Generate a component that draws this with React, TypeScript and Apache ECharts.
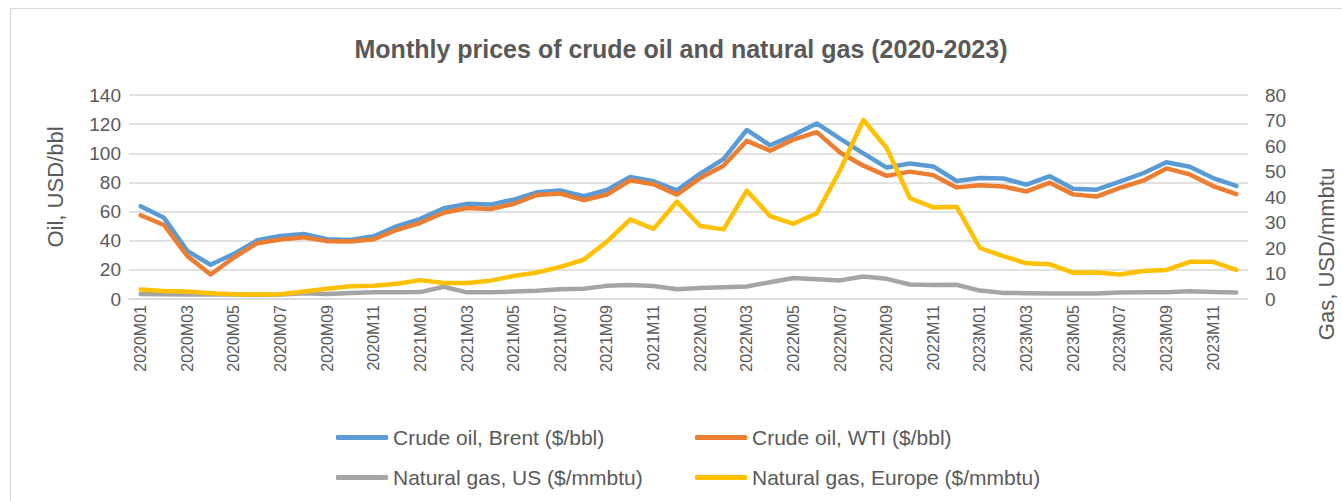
import React, { useEffect, useRef } from "react";
import * as echarts from "echarts";

const months: string[] = [];
for (const y of [2020, 2021, 2022, 2023]) {
  for (let m = 1; m <= 12; m++) months.push(`${y}M${m < 10 ? "0" + m : m}`);
}

const brent = [
  63.6, 55.7, 33.0, 23.5, 31.0, 40.3, 43.2, 44.7, 41.0, 40.5, 43.0, 50.0,
  55.0, 62.3, 65.3, 64.8, 68.2, 73.2, 74.5, 70.5, 74.8, 83.8, 80.8, 74.5,
  86.0, 96.0, 116.0, 105.5, 112.5, 120.5, 110.0, 100.0, 90.2, 93.0, 91.0, 81.0,
  83.0, 82.7, 78.5, 84.3, 75.6, 75.0, 80.5, 86.3, 93.8, 90.8, 83.0, 77.6,
];
const wti = [
  57.5, 50.8, 29.5, 16.8, 28.5, 38.3, 40.8, 42.3, 39.7, 39.5, 41.0, 47.5,
  52.3, 59.2, 62.4, 61.8, 65.2, 71.4, 72.4, 67.8, 71.6, 81.5, 78.8, 71.6,
  83.0, 91.5, 108.5, 101.8, 109.4, 114.5, 100.5, 91.5, 84.5, 87.4, 85.0, 76.6,
  78.0, 77.2, 73.8, 79.8, 71.8, 70.3, 76.2, 81.2, 89.6, 85.5, 77.5, 72.0,
];
const gasUS = [
  2.0, 1.9, 1.8, 1.75, 1.75, 1.65, 1.77, 2.3, 1.95, 2.4, 2.6, 2.6,
  2.7, 4.8, 2.6, 2.65, 2.9, 3.25, 3.85, 4.05, 5.15, 5.5, 5.1, 3.8,
  4.35, 4.65, 4.9, 6.6, 8.2, 7.75, 7.3, 8.8, 7.9, 5.7, 5.5, 5.6,
  3.3, 2.4, 2.3, 2.2, 2.15, 2.2, 2.55, 2.6, 2.65, 3.0, 2.75, 2.55,
];
const gasEurope = [
  3.7, 3.1, 2.9, 2.3, 1.9, 1.8, 1.9, 2.9, 4.0, 5.0, 5.2, 6.0,
  7.4, 6.3, 6.3, 7.2, 9.0, 10.4, 12.6, 15.4, 22.5, 31.2, 27.5, 38.2,
  28.6, 27.3, 42.5, 32.5, 29.5, 33.6, 50.5, 70.2, 59.2, 39.5, 35.9, 36.2,
  20.0, 16.8, 14.0, 13.6, 10.3, 10.4, 9.6, 11.0, 11.4, 14.6, 14.6, 11.4,
];

const seriesNames = [
  "Crude oil, Brent ($/bbl)",
  "Crude oil, WTI ($/bbl)",
  "Natural gas, US ($/mmbtu)",
  "Natural gas, Europe ($/mmbtu)",
];
const colors = ["#5B9BD5", "#ED7D31", "#A5A5A5", "#FFC000"];
const titleText = "Monthly prices of crude oil and natural gas (2020-2023)";
const oilAxisName = "Oil, USD/bbl";
const gasAxisName = "Gas, USD/mmbtu";

const FONT = "'Liberation Sans', Arial, sans-serif";
const TXT = "#595959";

export default function App() {
  const ref = useRef<HTMLDivElement>(null);
  useEffect(() => {
    if (!ref.current) return;
    const chart = echarts.init(ref.current, undefined, { renderer: "svg" });
    const legendPos = [
      { left: 331, top: 422 },
      { left: 690, top: 422 },
      { left: 331, top: 462 },
      { left: 690, top: 462 },
    ];
    const datas = [brent, wti, gasUS, gasEurope];
    chart.setOption({
      animation: false,
      backgroundColor: "#ffffff",
      textStyle: { fontFamily: FONT },
      graphic: [
        {
          type: "rect",
          shape: { x: 10.5, y: 8.5, width: 1340, height: 600 },
          style: { fill: "none", stroke: "#D9D9D9", lineWidth: 1 },
          silent: true,
        },
        {
          type: "text",
          x: 681,
          y: 49,
          style: {
            text: titleText,
            font: `bold 25px ${FONT}`,
            fill: TXT,
            textAlign: "center",
            textVerticalAlign: "middle",
          },
        },
        {
          type: "text",
          x: 55,
          y: 187,
          rotation: Math.PI / 2,
          style: {
            text: oilAxisName,
            font: `22px ${FONT}`,
            fill: TXT,
            textAlign: "center",
            textVerticalAlign: "middle",
          },
        },
        {
          type: "text",
          x: 1326,
          y: 254,
          rotation: Math.PI / 2,
          style: {
            text: gasAxisName,
            font: `22px ${FONT}`,
            fill: TXT,
            textAlign: "center",
            textVerticalAlign: "middle",
          },
        },
      ],
      legend: legendPos.map((p, i) => ({
        left: p.left,
        top: p.top,
        data: [seriesNames[i]],
        icon: "roundRect",
        itemWidth: 52,
        itemHeight: 5,
        itemGap: 0,
        textStyle: { fontSize: 21, color: TXT, fontFamily: FONT },
        selectedMode: false,
      })),
      grid: {
        left: 129,
        right: 94,
        top: 95,
        bottom: 202,
        containLabel: false,
        outerBoundsMode: "none",
      },
      xAxis: {
        type: "category",
        data: months,
        boundaryGap: true,
        axisLine: { show: true, lineStyle: { color: "#D9D9D9", width: 1.5 } },
        axisTick: { show: false },
        axisLabel: {
          interval: 1,
          rotate: 90,
          fontSize: 16,
          color: TXT,
          fontFamily: FONT,
          margin: 6,
        },
      },
      yAxis: [
        {
          type: "value",
          min: 0,
          max: 140,
          interval: 20,
          axisLine: { show: false },
          axisTick: { show: false },
          axisLabel: { fontSize: 19, color: TXT, fontFamily: FONT, margin: 8 },
          splitLine: { lineStyle: { color: "#D9D9D9", width: 1.5 } },
        },
        {
          type: "value",
          min: 0,
          max: 80,
          interval: 10,
          position: "right",
          axisLine: { show: false },
          axisTick: { show: false },
          axisLabel: { fontSize: 19, color: TXT, fontFamily: FONT, margin: 17 },
          splitLine: { show: false },
        },
      ],
      series: datas.map((d, i) => ({
        name: seriesNames[i],
        type: "line",
        yAxisIndex: i < 2 ? 0 : 1,
        data: d,
        showSymbol: false,
        symbol: "none",
        color: colors[i],
        lineStyle: { color: colors[i], width: 4.5, cap: "round", join: "round" },
        z: 2 + i,
      })),
    });
    return () => chart.dispose();
  }, []);
  return (
    <div
      ref={ref}
      style={{ position: "absolute", left: 0, top: 0, width: 1342, height: 501 }}
    />
  );
}
